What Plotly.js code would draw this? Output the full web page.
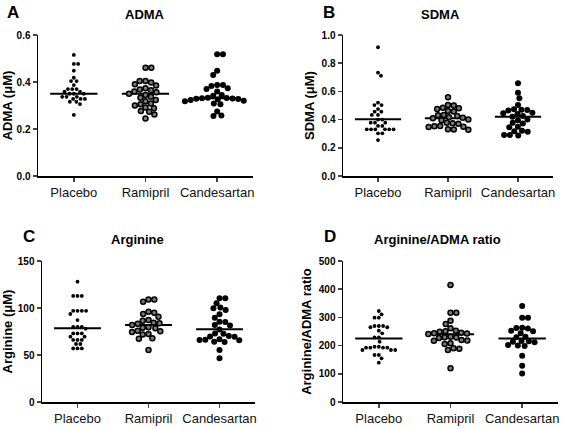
<!DOCTYPE html>
<html>
<head>
<meta charset="utf-8">
<script src="https://cdn.plot.ly/plotly-3.0.1.min.js"></script>
<style>html,body{margin:0;padding:0;background:#fff}#chart{width:567px;height:429px}</style>
</head>
<body>
<div id="chart"></div>
<script>
const categories = ['Placebo', 'Ramipril', 'Candesartan'];

// Panel A: ADMA (µM)
const admaPlacebo = [0.515,0.477,0.477,0.448,0.418,0.404,0.404,0.387,0.37,0.37,0.37,0.359,0.359,0.35,0.35,0.35,0.337,0.337,0.337,0.328,0.328,0.328,0.316,0.316,0.306,0.26];
const admaRamipril = [0.461,0.461,0.404,0.404,0.398,0.39,0.385,0.373,0.368,0.365,0.36,0.356,0.35,0.345,0.337,0.333,0.323,0.318,0.309,0.305,0.3,0.292,0.288,0.277,0.273,0.262,0.245];
const admaCandesartan = [0.518,0.518,0.448,0.43,0.387,0.387,0.383,0.373,0.37,0.36,0.345,0.342,0.333,0.332,0.331,0.33,0.329,0.328,0.327,0.323,0.32,0.318,0.309,0.305,0.274,0.257,0.255];
const admaMedian = [0.35, 0.35, 0.331];

// Panel B: SDMA (µM)
const sdmaPlacebo = [0.913,0.733,0.711,0.52,0.503,0.503,0.475,0.456,0.456,0.433,0.433,0.40,0.40,0.378,0.378,0.378,0.355,0.355,0.331,0.331,0.331,0.331,0.331,0.331,0.303,0.303,0.255];
const sdmaRamipril = [0.558,0.503,0.5,0.484,0.48,0.476,0.461,0.458,0.433,0.43,0.425,0.416,0.413,0.41,0.40,0.395,0.378,0.375,0.37,0.355,0.352,0.35,0.347,0.331,0.33,0.328];
const sdmaCandesartan = [0.657,0.591,0.551,0.503,0.473,0.47,0.468,0.465,0.449,0.445,0.44,0.426,0.42,0.40,0.395,0.378,0.372,0.35,0.345,0.321,0.318,0.314,0.291,0.29,0.288];
const sdmaMedian = [0.402, 0.409, 0.42];

// Panel C: Arginine (µM)
const argPlacebo = [128,112.8,112.8,112.8,97,97,97,97,93.6,87.2,80,80,80,78,73,73,73,69.5,69.5,66,66,66,61.7,61.7,57,57,57];
const argRamipril = [109,109,106.7,96,95,93.6,90.8,87.2,86.5,84.4,83.8,83.2,82,79.4,79,78.5,75.9,75.2,74.6,72.3,71.8,67.7,67.2,55.3];
const argCandesartan = [110.3,110.3,105,100.4,99.8,97.8,93.3,89.7,85.5,85,81.9,81.4,77,73,72.5,70.2,69.8,69.3,66.7,66.3,66,65.6,64.2,63.8,55.3,46.5];
const argMedian = [78.4, 81.9, 77.3];

// Panel D: Arginine/ADMA ratio
const ratioPlacebo = [322.7,311,299,299,269.5,269.5,269.5,265,265,253,243.6,229,229,214,196,196,192.6,192.6,192.6,192.6,184.4,184.4,184.4,166.7,166.7,155,139.4];
const ratioRamipril = [415,316.7,316.7,288.3,276.6,261.3,253,251,249,245.7,244,242.5,241,231.6,230,228.5,227,220,218.5,217,208,206,190.4,189,184.4,119.5];
const ratioCandesartan = [340.4,299,299,263.5,262,260.5,253,251,243.6,231.6,230,216.3,215,213.5,212,202,200.5,199,164,128.7,101];
const ratioMedian = [225, 240, 225];

const W = 567, H = 429;
const FONT = 'Arial, "Liberation Sans", sans-serif';

const panels = [
  {letter:'A', title:'ADMA', ytitle:'ADMA (\u03bcM)', groups:[admaPlacebo, admaRamipril, admaCandesartan], med:admaMedian,
   range:[0,0.6], dtick:0.2, fmt:'.1f', xd:[38,253], yd:[35,176], tpos:[145,14], lpos:[13,12]},
  {letter:'B', title:'SDMA', ytitle:'SDMA (\u03bcM)', groups:[sdmaPlacebo, sdmaRamipril, sdmaCandesartan], med:sdmaMedian,
   range:[0,1.0], dtick:0.2, fmt:'.1f', xd:[343,553], yd:[35,176], tpos:[440,14], lpos:[329,12]},
  {letter:'C', title:'Arginine', ytitle:'Arginine (\u03bcM)', groups:[argPlacebo, argRamipril, argCandesartan], med:argMedian,
   range:[0,150], dtick:50, fmt:'d', xd:[42,255], yd:[261,402], tpos:[137,239], lpos:[29,237]},
  {letter:'D', title:'Arginine/ADMA ratio', ytitle:'Arginine/ADMA ratio', groups:[ratioPlacebo, ratioRamipril, ratioCandesartan], med:ratioMedian,
   range:[0,500], dtick:100, fmt:'d', xd:[343,558], yd:[261,402], tpos:[437,239], lpos:[330,237]}
];

const markerStyles = [
  {size:3.8, color:'#000', line:{width:0}, diam:4.3},
  {size:5, color:'#7a7a7a', line:{width:1.5, color:'#000'}, diam:5.8},
  {size:6, color:'#000', line:{width:0}, diam:5.8}
];

// Beeswarm: horizontal offsets (in px) so that points do not overlap
function swarm(vals, pxPerY, diam) {
  const order = vals.map((v, i) => i).sort((a, b) => vals[b] - vals[a]);
  const placed = [];
  const xs = new Array(vals.length).fill(0);
  let side = 1;
  for (const i of order) {
    const y = vals[i] * pxPerY;
    const near = placed.filter(p => Math.abs(p.y - y) < diam);
    let cands = [0];
    for (const p of near) {
      const dx = Math.sqrt(diam * diam - (p.y - y) * (p.y - y));
      cands.push(p.x + dx, p.x - dx);
    }
    cands.sort((a, b) => Math.abs(a) - Math.abs(b) || (side * b - side * a));
    let chosen = 0;
    for (const c of cands) {
      if (near.every(p => (p.x - c) ** 2 + (p.y - y) ** 2 >= diam * diam - 1e-6)) { chosen = c; break; }
    }
    if (chosen !== 0) side = -side;
    xs[i] = chosen;
    placed.push({x: chosen, y: y});
  }
  return xs;
}

const data = [];
const layout = {
  width: W, height: H, margin: {l:0, r:0, t:0, b:0},
  paper_bgcolor: '#fff', plot_bgcolor: '#fff', showlegend: false,
  font: {family: FONT, color: '#000'},
  annotations: []
};

panels.forEach((p, k) => {
  const n = k + 1;
  const xa = n === 1 ? 'xaxis' : 'xaxis' + n;
  const ya = n === 1 ? 'yaxis' : 'yaxis' + n;
  const xr = n === 1 ? 'x' : 'x' + n;
  const yr = n === 1 ? 'y' : 'y' + n;
  const pxPerX = (p.xd[1] - p.xd[0]) / 3;
  const pxPerY = (p.yd[1] - p.yd[0]) / (p.range[1] - p.range[0]);
  p.groups.forEach((vals, g) => {
    const st = markerStyles[g];
    const off = swarm(vals, pxPerY, st.diam);
    data.push({
      type: 'scatter', mode: 'lines', xaxis: xr, yaxis: yr,
      x: [g - 0.33, g + 0.33], y: [p.med[g], p.med[g]],
      line: {color: '#000', width: 2}, hoverinfo: 'skip'
    });
    data.push({
      type: 'scatter', mode: 'markers', xaxis: xr, yaxis: yr,
      x: off.map(o => g + o / pxPerX), y: vals, name: categories[g],
      marker: {size: st.size, color: st.color, line: st.line, symbol: 'circle'},
      hoverinfo: 'y', cliponaxis: false
    });
  });
  layout[xa] = {
    domain: [p.xd[0] / W, p.xd[1] / W], anchor: yr, range: [-0.5, 2.5],
    tickvals: [0, 1, 2], ticktext: categories, ticks: 'outside', ticklen: 4, tickwidth: 1.5,
    showline: true, linewidth: 1.5, linecolor: '#000', showgrid: false, zeroline: false,
    tickfont: {family: FONT, size: 13, color: '#111'}, fixedrange: true
  };
  layout[ya] = {
    domain: [1 - p.yd[1] / H, 1 - p.yd[0] / H], anchor: xr, range: p.range,
    dtick: p.dtick, tick0: 0, tickformat: p.fmt, ticks: 'outside', ticklen: 4, tickwidth: 1.5,
    showline: true, linewidth: 1.5, linecolor: '#000', showgrid: false, zeroline: false,
    tickfont: {family: FONT, size: 10, color: '#000', weight: 'bold'},
    title: {text: '<b>' + p.ytitle + '</b>', font: {family: FONT, size: 13, color: '#000'}, standoff: 4},
    fixedrange: true
  };
  layout.annotations.push({
    xref: 'paper', yref: 'paper', x: p.tpos[0] / W, y: 1 - p.tpos[1] / H,
    xanchor: 'center', yanchor: 'middle', showarrow: false,
    text: '<b>' + p.title + '</b>', font: {family: FONT, size: 13, color: '#000'}
  });
  layout.annotations.push({
    xref: 'paper', yref: 'paper', x: p.lpos[0] / W, y: 1 - p.lpos[1] / H,
    xanchor: 'center', yanchor: 'middle', showarrow: false,
    text: '<b>' + p.letter + '</b>', font: {family: FONT, size: 17, color: '#000'}
  });
});

Plotly.newPlot('chart', data, layout, {displayModeBar: false, staticPlot: true});
</script>
</body>
</html>
